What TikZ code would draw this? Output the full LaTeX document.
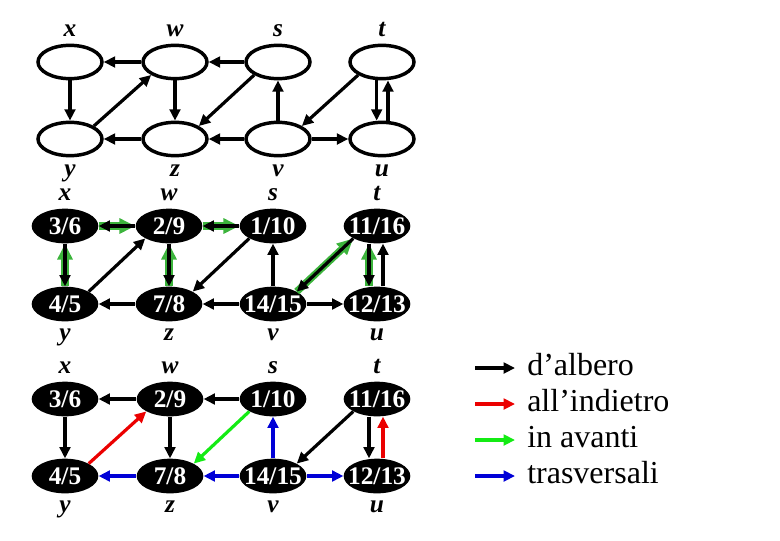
\documentclass[tikz,border=0pt]{standalone}
\usepackage{fontspec}
\setmainfont{Liberation Serif}
\usetikzlibrary{shapes.geometric,arrows.meta}

\definecolor{verdescuro}{RGB}{60,180,60}
\definecolor{verde}{RGB}{20,235,20}
\definecolor{rosso}{RGB}{235,0,0}
\definecolor{blu}{RGB}{0,0,215}

\newcommand{\tempo}[1]{\makebox[0pt]{#1}}

\tikzset{
  vuoto/.style={ellipse, draw, line width=2.6pt, minimum width=48pt, minimum height=25pt, inner sep=0pt},
  pieno/.style={ellipse, fill=black, text=white, font=\fontsize{19}{19}\selectfont\bfseries,
                minimum width=50pt, minimum height=26pt, inner sep=0pt},
  nome/.style={font=\fontsize{19}{19}\selectfont\bfseries\itshape, text height=12.9pt, text depth=4.5pt, inner sep=1pt},
  voce/.style={font=\fontsize{24}{24}\selectfont, text height=15pt, text depth=4pt, inner sep=9pt, anchor=west},
  freccia/.style={-{Triangle[length=8.5pt,width=8pt]}, line width=2.4pt},
  pred/.style={-{Triangle[length=12pt,width=11pt]}, line width=5.5pt, verdescuro},
}

\begin{document}
\begin{tikzpicture}[x=0.75pt,y=-0.75pt]
    \useasboundingbox (0,0) rectangle (780,540);

    % grafo orientato
    \node[vuoto, label={[nome]above:x}] (x1) at (70,62) {};
    \node[vuoto, label={[nome]above:w}] (w1) at (175,62) {};
    \node[vuoto, label={[nome]above:s}] (s1) at (278,62) {};
    \node[vuoto, label={[nome]above:t}] (t1) at (382,62) {};
    \node[vuoto, label={[nome]below:y}] (y1) at (70,139) {};
    \node[vuoto, label={[nome]below:z}] (z1) at (175,139) {};
    \node[vuoto, label={[nome]below:v}] (v1) at (278,139) {};
    \node[vuoto, label={[nome]below:u}] (u1) at (382,139) {};

    \draw[freccia] (w1) -- (x1);
    \draw[freccia] (s1) -- (w1);
    \draw[freccia] (x1) -- (y1);
    \draw[freccia] (y1.north east) -- (w1.south west);
    \draw[freccia] (w1) -- (z1);
    \draw[freccia] (s1.south west) -- (z1.north east);
    \draw[freccia] (v1) -- (s1);
    \draw[freccia] (t1.south west) -- (v1.north east);
    \draw[freccia] ([xshift=-4pt]t1.south) -- ([xshift=-4pt]u1.north);
    \draw[freccia] ([xshift=4.5pt]u1.north) -- ([xshift=4.5pt]t1.south);
    \draw[freccia] (z1) -- (y1);
    \draw[freccia] (v1) -- (z1);
    \draw[freccia] (v1) -- (u1);

    % visita in profondita': tempi di scoperta/fine
    \node[pieno, label={[nome]above:x}] (x2) at (65,226) {\tempo{3/6}};
    \node[pieno, label={[nome]above:w}] (w2) at (169,226) {\tempo{2/9}};
    \node[pieno, label={[nome]above:s}] (s2) at (273,226) {\tempo{1/10}};
    \node[pieno, label={[nome]above:t}] (t2) at (377,226) {\tempo{11/16}};
    \node[pieno, label={[nome]below:y}] (y2) at (65,304) {\tempo{4/5}};
    \node[pieno, label={[nome]below:z}] (z2) at (169,304) {\tempo{7/8}};
    \node[pieno, label={[nome]below:v}] (v2) at (273,304) {\tempo{14/15}};
    \node[pieno, label={[nome]below:u}] (u2) at (377,304) {\tempo{12/13}};

    % predecessori (verde, sotto)
    \draw[pred] (x2) -- (w2);
    \draw[pred] (w2) -- (s2);
    \draw[pred] (y2) -- (x2);
    \draw[pred] (z2) -- (w2);
    \draw[pred] (v2.north east) -- (t2.south west);
    \draw[pred] ([xshift=-6pt]u2.north) -- ([xshift=-6pt]t2.south);

    \draw[freccia] (w2) -- (x2);
    \draw[freccia] (s2) -- (w2);
    \draw[freccia] (x2) -- (y2);
    \draw[freccia] (y2.north east) -- (w2.south west);
    \draw[freccia] (w2) -- (z2);
    \draw[freccia] (s2.south west) -- (z2.north east);
    \draw[freccia] (v2) -- (s2);
    \draw[freccia] (t2.south west) -- (v2.north east);
    \draw[freccia] ([xshift=-6pt]t2.south) -- ([xshift=-6pt]u2.north);
    \draw[freccia] ([xshift=4.5pt]u2.north) -- ([xshift=4.5pt]t2.south);
    \draw[freccia] (z2) -- (y2);
    \draw[freccia] (v2) -- (z2);
    \draw[freccia] (v2) -- (u2);

    % classificazione degli archi
    \node[pieno, label={[nome]above:x}] (x3) at (65,399) {\tempo{3/6}};
    \node[pieno, label={[nome]above:w}] (w3) at (170,399) {\tempo{2/9}};
    \node[pieno, label={[nome]above:s}] (s3) at (273,399) {\tempo{1/10}};
    \node[pieno, label={[nome]above:t}] (t3) at (377,399) {\tempo{11/16}};
    \node[pieno, label={[nome]below:y}] (y3) at (65,476) {\tempo{4/5}};
    \node[pieno, label={[nome]below:z}] (z3) at (170,476) {\tempo{7/8}};
    \node[pieno, label={[nome]below:v}] (v3) at (273,476) {\tempo{14/15}};
    \node[pieno, label={[nome]below:u}] (u3) at (377,476) {\tempo{12/13}};

    \draw[freccia] (w3) -- (x3);
    \draw[freccia] (s3) -- (w3);
    \draw[freccia] (x3) -- (y3);
    \draw[freccia, rosso] (y3.north east) -- (w3.south west);
    \draw[freccia] (w3) -- (z3);
    \draw[freccia, verde] (s3.south west) -- (z3.north east);
    \draw[freccia, blu] (v3) -- (s3);
    \draw[freccia] (t3.south west) -- (v3.north east);
    \draw[freccia] ([xshift=-6pt]t3.south) -- ([xshift=-6pt]u3.north);
    \draw[freccia, rosso] ([xshift=4.5pt]u3.north) -- ([xshift=4.5pt]t3.south);
    \draw[freccia, blu] (z3) -- (y3);
    \draw[freccia, blu] (v3) -- (z3);
    \draw[freccia, blu] (v3) -- (u3);

    % legenda
    \node[voce] (l1) at (515,368) {d'albero};
    \node[voce] (l2) at (515,404) {all'indietro};
    \node[voce] (l3) at (515,440) {in avanti};
    \node[voce] (l4) at (515,476) {trasversali};
    \coordinate (c1) at (475,368);
    \coordinate (c2) at (475,404);
    \coordinate (c3) at (475,440);
    \coordinate (c4) at (475,476);
    \draw[freccia] (c1) -- (l1.west);
    \draw[freccia, rosso] (c2) -- (l2.west);
    \draw[freccia, verde] (c3) -- (l3.west);
    \draw[freccia, blu] (c4) -- (l4.west);
\end{tikzpicture}
\end{document}
